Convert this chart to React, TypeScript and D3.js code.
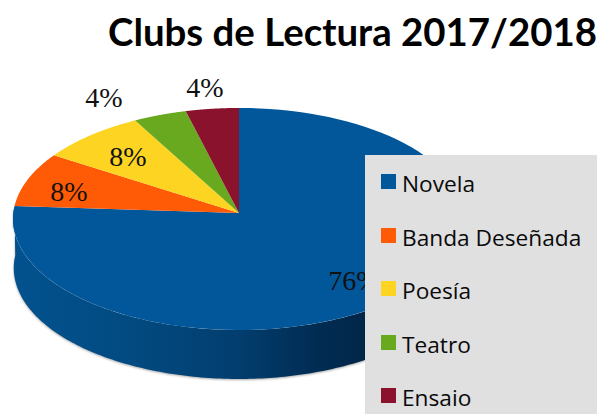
import React from "react";
import * as d3 from "d3";

const categories = ["Novela", "Banda Deseñada", "Poesía", "Teatro", "Ensaio"];
const shares = [76, 8, 8, 4, 4];
const colors = ["#02579a", "#ff5a05", "#fdd422", "#68a91f", "#8a122c"];
const labels = ["76%", "8%", "8%", "4%", "4%"];
const labelPos: [number, number][] = [[354, 290], [69, 201], [128, 166], [104, 107], [205, 97]];
const legendY = [181.5, 235.5, 288.5, 342.5, 395.5];

const W = 600, H = 414;
const cx = 239, apexY = 213, halfW = 225.7, halfH = 110.7, persp = 0.054, depth = 49;

// Project a point on the pie's rim, tilted away from the viewer.
const rim = (a: number): [number, number] => {
  const u = Math.sin(a), v = -Math.cos(a);
  const w = 1 - persp * v;
  return [cx + (halfW * u) / w, apexY + (halfH * v) / w];
};

function slicePath(start: number, end: number) {
  const pts = d3.range(0, 101).map((i) => rim(start + ((end - start) * i) / 100));
  return `M${cx},${apexY}L` + pts.map((p) => p.join(",")).join("L") + "Z";
}

function wallPath() {
  const a0 = Math.PI / 2 - 0.06, a1 = (3 * Math.PI) / 2 + 0.06;
  const top = d3.range(0, 201).map((i) => rim(a0 + ((a1 - a0) * i) / 200));
  const bottom = top.slice().reverse().map(([x, y]) => [x + (x < cx ? 0.8 : -0.8), y + depth] as [number, number]);
  return "M" + top.concat(bottom).map((p) => p.join(",")).join("L") + "Z";
}

export default function App() {
  const arcs = d3.pie<number>().sort(null).startAngle(0).endAngle(2 * Math.PI)(shares);
  const wall = wallPath();
  return (
    <svg
      width={W}
      height={H}
      viewBox={`0 0 ${W} ${H}`}
      style={{ position: "absolute", left: 0, top: 0, background: "#fff" }}
    >
      <defs>
        <linearGradient id="wall" gradientUnits="userSpaceOnUse" x1={13} y1={0} x2={420} y2={0}>
          <stop offset="0" stopColor="#02528f" />
          <stop offset="0.3" stopColor="#024a80" />
          <stop offset="0.55" stopColor="#023e6f" />
          <stop offset="0.75" stopColor="#012c52" />
          <stop offset="1" stopColor="#001f3d" />
        </linearGradient>
        <filter id="soft" x="-5%" y="-5%" width="110%" height="110%">
          <feGaussianBlur stdDeviation="1" />
        </filter>
      </defs>
      <text
        x={108}
        y={46}
        fontFamily="Lato, Carlito, sans-serif"
        fontWeight={700}
        fontSize={38.4}
        fill="#000"
      >
        Clubs de Lectura 2017/2018
      </text>
      <path d={wall} fill="#a8a8a8" filter="url(#soft)" transform="translate(0,1)" />
      <path d={wall} fill="url(#wall)" />
      {arcs.map((d, i) => (
        <path key={categories[i]} d={slicePath(d.startAngle, d.endAngle)} fill={colors[i]} />
      ))}
      {labels.map((t, i) => (
        <text
          key={i}
          x={labelPos[i][0]}
          y={labelPos[i][1]}
          textAnchor="middle"
          fontFamily="'Liberation Serif', serif"
          fontSize={28}
          fill="#111"
        >
          {t}
        </text>
      ))}
      <rect x={365} y={155} width={232} height={259} fill="#e0e0e0" />
      {categories.map((c, i) => (
        <g key={c}>
          <rect x={381} y={legendY[i] - 7.5} width={15} height={15} fill={colors[i]} />
          <text
            x={402}
            y={legendY[i] + 10}
            fontFamily="'Open Sans', 'Noto Sans', sans-serif"
            fontSize={22.7}
            fill="#0a0a0a"
          >
            {c}
          </text>
        </g>
      ))}
    </svg>
  );
}
